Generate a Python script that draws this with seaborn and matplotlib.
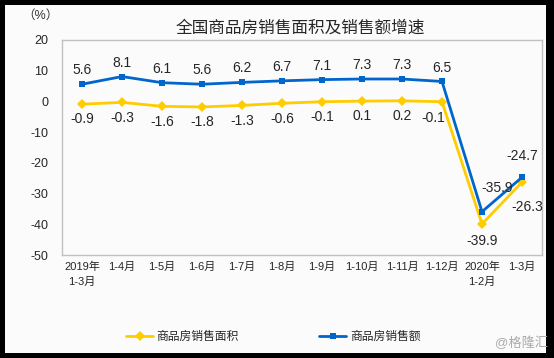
import numpy as np
import pandas as pd
import matplotlib
import matplotlib.pyplot as plt
import seaborn as sns
from matplotlib.patches import Rectangle

sns.set_style('white')
plt.rcParams['font.family'] = ['Liberation Sans', 'Noto Sans CJK SC', 'DejaVu Sans']
plt.rcParams['axes.unicode_minus'] = False

periods = ['2019年\n1-3月', '1-4月', '1-5月', '1-6月', '1-7月', '1-8月', '1-9月',
           '1-10月', '1-11月', '1-12月', '2020年\n1-2月', '1-3月']
area_growth = [-0.9, -0.3, -1.6, -1.8, -1.3, -0.6, -0.1, 0.1, 0.2, -0.1, -39.9, -26.3]
sales_growth = [5.6, 8.1, 6.1, 5.6, 6.2, 6.7, 7.1, 7.3, 7.3, 6.5, -35.9, -24.7]
area_name = '商品房销售面积'
sales_name = '商品房销售额'

yellow = '#ffcc00'
blue = '#0066cc'

df = pd.DataFrame({
    'idx': list(range(len(periods))) * 2,
    'value': area_growth + sales_growth,
    'series': [area_name] * len(periods) + [sales_name] * len(periods),
})

fig = plt.figure(figsize=(5.54, 3.58), dpi=100)
fig.patch.set_facecolor('black')
fig.patches.append(Rectangle((5 / 554, 5 / 358), 541 / 554, 348 / 358,
                             transform=fig.transFigure, facecolor='#fbfbfb',
                             edgecolor='none', zorder=-5))

ax = fig.add_axes([62 / 554, 103 / 358, 480 / 554, 215 / 358])
ax.set_zorder(2)
ax.set_facecolor('#fbfbfb')
sns.lineplot(data=df, x='idx', y='value', hue='series', style='series',
             palette={area_name: yellow, sales_name: blue},
             markers={area_name: 'D', sales_name: 's'},
             dashes=False, linewidth=2, markersize=5, markeredgewidth=0,
             ax=ax)

# data labels
for i, (a, s) in enumerate(zip(area_growth, sales_growth)):
    if i == 10:
        ax.annotate(f'{s}', (i, s), xytext=(11, 17), textcoords='offset points',
                    ha='center', va='center', fontsize=10)
        ax.annotate(f'{a}', (i, a), xytext=(0, -12), textcoords='offset points',
                    ha='center', va='center', fontsize=10)
    elif i == 11:
        ax.annotate(f'{s}', (i, s), xytext=(0, 15), textcoords='offset points',
                    ha='center', va='center', fontsize=10)
        ax.annotate(f'{a}', (i, a), xytext=(4, -18), textcoords='offset points',
                    ha='center', va='center', fontsize=10)
    elif i == 9:
        ax.annotate(f'{s}', (i, s), xytext=(0, 10), textcoords='offset points',
                    ha='center', va='center', fontsize=10)
        ax.annotate(f'{a}', (i, a), xytext=(-6, -12), textcoords='offset points',
                    ha='center', va='center', fontsize=10)
    else:
        ax.annotate(f'{s}', (i, s), xytext=(0, 10), textcoords='offset points',
                    ha='center', va='center', fontsize=10)
        ax.annotate(f'{a}', (i, a), xytext=(0, -11), textcoords='offset points',
                    ha='center', va='center', fontsize=10)

ax.set_xlim(-0.5, len(periods) - 0.5)
ax.set_ylim(-50, 20)
ax.set_yticks(np.arange(-50, 21, 10))
ax.set_xticks(range(len(periods)))
ax.set_xticklabels(periods, fontsize=8, linespacing=1.6)
ax.set_xticks(np.arange(0.5, len(periods) - 0.5, 1), minor=True)
ax.tick_params(axis='x', which='major', length=0, pad=5)
ax.tick_params(axis='x', which='minor', direction='in', length=4, color='#b0b0b0')
ax.tick_params(axis='y', length=4, color='#b0b0b0', labelsize=9, pad=6)
ax.set_xlabel('')
ax.set_ylabel('')
for sp in ax.spines.values():
    sp.set_color('#c0c0c0')
    sp.set_linewidth(1)

handles, labels = ax.get_legend_handles_labels()
ax.legend(handles, labels, loc='center', bbox_to_anchor=(0.44, -0.38), ncol=2,
          frameon=False, fontsize=8.5, columnspacing=6.8, handlelength=2.3,
          handletextpad=0.3)

fig.text(300 / 554, 1 - 28 / 358, '全国商品房销售面积及销售额增速', ha='center',
         va='center', fontsize=12)
fig.text(40 / 554, 1 - 16 / 358, '（%）', ha='center', va='center', fontsize=9,
         color='#333333')
fig.text(522 / 554, 1 - 343 / 358, '@格隆汇', ha='center', va='center', fontsize=9.5,
         color='#aaaaaa')

fig.savefig('out.png', dpi=100, facecolor=fig.get_facecolor())
